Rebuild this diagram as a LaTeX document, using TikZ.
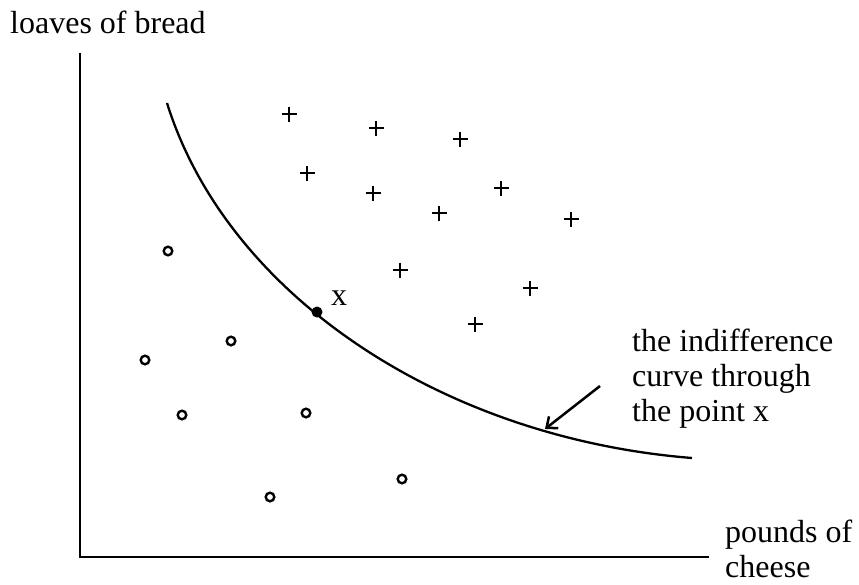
\documentclass[tikz,border=0pt]{standalone}
\usepackage{fontspec}
\setmainfont{Liberation Serif}
\usetikzlibrary{arrows.meta,calc,positioning}

\begin{document}
\begin{tikzpicture}[x=1pt,y=-1pt,>={Straight Barb[length=9pt,width=15pt]},
    lbl/.style={font=\fontsize{32}{35}\selectfont,inner sep=0pt,align=left},
    axis/.style={line width=2.8pt},
    pref/.style={line width=1.2pt},
    notpref/.style={line width=2.4pt}]
  \useasboundingbox (0,0) rectangle (859,584);
  % axes
  \coordinate (O) at (80,557);
  \draw[axis] (80,53) -- (O) -- (709,557);
  \node[lbl,anchor=base west] (ylab) at (10,33) {loaves of bread};
  \node[lbl,anchor=base west] (xlab) at (725,577) {pounds of\\cheese};
  % indifference curve
  \draw[line width=2.3pt] (167,103) .. controls (227,295) and (442,438) .. (692,458);
  \node[circle,fill,minimum size=11pt,inner sep=0pt] (ptx) at (317,312) {};
  \node[lbl,anchor=base west] (xname) at (331,305) {x};
  % bundles preferred to x
  \foreach \x/\y in {289/114,376/128,460/139,307/173,373/193,501/188,
                     439/213,571/219,400/270,530/288,475/324}
    \draw[pref] (\x-7.5,\y) -- (\x+7.5,\y) (\x,\y-7.5) -- (\x,\y+7.5);
  % bundles worse than x
  \foreach \x/\y in {168/251,231/341,145/360,182/415,306/413,270/497,402/479}
    \draw[notpref] (\x,\y) circle (4.3pt);
  % label with arrow
  \node[lbl,anchor=base west] (curvelab) at (632,421)
    {the indifference\\curve through\\the point x};
  \coordinate (tail) at (600,386);
  \coordinate (tip) at (545,429);
  \draw[->,line width=2.5pt] (tail) -- (tip);
\end{tikzpicture}
\end{document}
